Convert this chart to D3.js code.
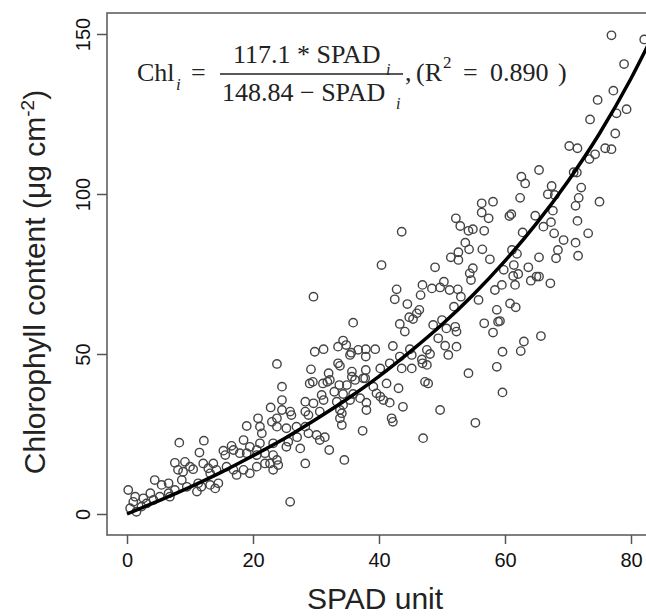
<!DOCTYPE html>
<html>
<head>
<meta charset="utf-8">
<script src="https://cdn.jsdelivr.net/npm/d3@7"></script>
<style>
  body { margin: 0; background: #fff; }
  svg { display: block; }
</style>
</head>
<body>
<div id="chart"></div>
<script>
const spad = [
  76.9, 82.1, 78.9, 77.2, 74.7, 79.3, 77.7, 73.5, 77.5, 70.2, 71.5, 75.9, 76.9,
  73.4, 74.3, 65.4, 62.6, 63.2, 70.9, 71.4, 67.4, 66.8, 67.9, 72.1, 71.7, 71.2, 75.0, 62.4,
  60.7, 61.0, 64.8, 67.6, 66.1, 67.3, 71.5, 62.8, 67.8, 69.3, 73.2, 71.2, 71.6, 68.4, 68.1,
  65.4, 61.1, 61.9, 59.8, 61.4, 63.7, 61.3, 62.1, 65.0, 65.4, 64.1, 61.6, 67.2, 59.5, 60.8,
  61.7, 59.2, 65.7, 63.0, 62.5, 59.6,
  56.3, 58.1, 56.3, 57.4, 52.2, 52.9, 54.2, 54.9, 56.7, 43.6, 53.7, 54.3, 56.4, 51.4, 52.6,
  52.6, 57.6, 48.9, 40.4, 54.9, 54.4, 54.6, 50.3, 49.7, 48.4, 46.9, 46.6, 51.2, 52.5, 53.0,
  42.8, 42.5, 58.4, 55.8, 44.5, 51.9, 46.4, 46.0, 44.8, 45.4, 43.3, 44.1, 50.0, 48.6, 50.7,
  52.1, 52.3, 56.7, 58.7, 58.9, 58.1, 42.2, 44.9, 45.2, 43.3, 47.6, 48.1, 49.4, 50.5, 52.3,
  51.0, 46.8, 46.9, 41.7, 43.6, 45.2, 47.6, 40.2, 58.7, 54.2, 47.3, 47.8, 41.2, 43.1, 59.6,
  40.7, 41.7, 43.8, 49.7, 42.0, 42.2, 55.3, 47.0,
  35.9, 23.8, 29.8, 31.2, 34.3, 34.8, 33.5, 35.4, 35.6, 36.7, 37.9, 39.4, 37.9, 29.2, 32.0,
  32.2, 31.8, 33.5, 33.8, 35.7, 35.7, 37.9, 37.8, 24.6, 29.0, 29.5, 31.1, 33.7, 34.9, 36.2,
  37.5, 39.1, 24.6, 28.3, 29.6, 30.9, 31.2, 32.9, 33.3, 34.3, 34.3, 35.4, 35.9, 37.0, 38.0,
  38.0, 39.6, 40.2, 22.8, 24.6, 25.9, 26.1, 28.3, 28.8, 30.6, 33.8, 34.1, 33.8, 34.1, 37.4,
  20.8, 23.8, 19.0, 21.1, 21.4, 23.0, 23.8, 25.3, 26.9, 28.3, 28.8, 30.1, 30.6, 31.4, 27.0,
  27.5, 25.6, 25.3, 32.1, 34.5, 28.3, 18.5, 19.5, 19.0, 21.1, 20.6, 21.9, 23.2, 22.7, 24.0,
  29.6, 25.9,
  8.3, 12.2, 11.5, 15.3, 15.6, 16.6, 16.9, 17.9, 20.6, 23.2, 7.6, 9.2, 8.1, 8.9, 10.0, 10.5,
  12.1, 12.9, 13.7, 14.2, 13.2, 15.8, 16.9, 17.4, 18.5, 19.5, 20.6, 21.9, 23.2, 23.8, 4.4,
  5.5, 6.6, 7.6, 6.8, 8.7, 9.5, 11.3, 11.8, 11.1, 13.2, 14.0, 14.5, 0.2, 1.3, 1.0, 2.6, 3.1,
  4.2, 5.2, 0.5, 1.5, 2.3, 3.7, 6.6
];
const chl = [
  149.6, 148.3, 140.6, 132.3, 129.4, 126.5, 125.2, 123.3, 118.9, 115.0, 114.3, 114.3, 114.0,
  110.9, 112.4, 107.5, 105.4, 103.3, 106.8, 106.7, 102.5, 99.9, 99.7, 102.0, 98.8, 96.3, 97.6, 98.8,
  93.1, 93.7, 93.2, 94.8, 89.8, 91.2, 91.6, 88.0, 87.7, 85.6, 87.7, 84.8, 80.7, 82.5, 79.9,
  80.2, 82.5, 81.3, 76.3, 77.8, 77.1, 74.4, 75.0, 74.2, 74.2, 72.9, 71.6, 72.1, 71.6, 65.8,
  64.6, 60.3, 55.6, 53.9, 50.9, 50.7,
  97.1, 97.6, 94.2, 92.4, 92.4, 90.0, 88.5, 89.0, 88.5, 88.2, 84.8, 82.7, 82.7, 80.2, 81.8,
  79.4, 79.6, 77.1, 77.8, 76.8, 75.2, 73.1, 72.6, 70.8, 70.5, 71.6, 68.4, 70.0, 70.2, 67.9,
  70.2, 67.1, 70.0, 66.9, 65.6, 64.8, 63.8, 62.7, 61.5, 60.9, 59.4, 57.0, 60.6, 59.1, 58.0,
  58.5, 57.0, 59.6, 63.8, 60.1, 56.7, 52.5, 51.5, 49.7, 49.2, 51.3, 50.0, 54.9, 52.6, 52.3,
  49.7, 48.3, 47.1, 47.1, 45.5, 45.5, 46.6, 45.5, 46.0, 44.0, 41.3, 40.8, 40.8, 39.3, 38.0,
  35.6, 34.8, 33.5, 32.5, 29.9, 28.8, 28.5, 23.7,
  59.8, 46.9, 50.7, 51.5, 54.2, 52.8, 52.3, 49.7, 50.4, 51.3, 51.5, 51.5, 49.2, 45.2, 44.0,
  41.9, 41.3, 47.1, 46.3, 44.5, 42.9, 45.0, 42.4, 39.8, 40.8, 41.3, 40.8, 40.3, 40.3, 41.9,
  42.4, 39.8, 35.6, 35.1, 34.6, 37.2, 35.6, 38.2, 35.1, 37.5, 34.1, 35.6, 37.5, 36.2, 34.8,
  32.5, 37.7, 36.7, 33.3, 32.5, 32.0, 30.9, 32.0, 30.9, 32.0, 32.5, 31.5, 29.9, 27.8, 26.0,
  29.9, 29.9, 27.5, 27.3, 25.2, 28.8, 27.3, 26.8, 27.3, 27.3, 25.2, 24.7, 23.1, 24.0, 24.0,
  20.5, 22.6, 21.0, 20.0, 16.9, 15.8, 23.1, 21.0, 19.0, 22.1, 20.0, 19.0, 18.4, 15.8, 15.3,
  67.9, 3.8,
  22.3, 22.9, 19.2, 19.8, 18.4, 21.3, 20.0, 19.0, 18.4, 22.1, 16.0, 16.3, 13.8, 13.2, 14.8, 14.0,
  15.8, 14.3, 15.8, 13.8, 12.7, 14.8, 13.8, 12.2, 13.8, 12.7, 14.8, 15.8, 13.8, 16.9, 10.6,
  9.1, 9.6, 7.5, 5.4, 10.6, 8.5, 9.6, 8.5, 7.0, 9.1, 8.0, 9.6, 7.5, 5.4, 3.8, 4.9, 3.3,
  4.4, 5.4, 1.8, 0.7, 2.3, 6.5, 6.5
];

// fitted curve as drawn
const fitSpad = [0, 5, 10, 15, 20, 25, 30, 35, 40, 45, 50, 55, 60, 65, 70, 75, 80, 84];
const fitChl = [0, 4.1, 8.4, 13.1, 18.2, 23.6, 29.6, 36.0, 43.0, 50.8, 59.2, 68.6, 79.1, 90.8, 104.0, 118.9, 136.1, 151.7];

const xTicks = [0, 20, 40, 60, 80];
const yTicks = [0, 50, 100, 150];

const w = 646;
const h = 616;

const svg = d3.select("#chart").append("svg").attr("width", w).attr("height", h);

const xScale = d3.scaleLinear().domain([0, 80]).range([127, 631]);
const yScale = d3.scaleLinear().domain([0, 150]).range([514, 34]);

const box = { left: 107, top: 13, bottom: 535 };

// plot frame (right side runs off the picture)
svg.append("rect")
  .attr("x", box.left)
  .attr("y", box.top)
  .attr("width", 700)
  .attr("height", box.bottom - box.top)
  .attr("fill", "none")
  .attr("stroke", "#555")
  .attr("stroke-width", 1.5);

// axes
const xAxis = svg.append("g")
  .attr("transform", `translate(0,${box.bottom})`)
  .call(d3.axisBottom(xScale).tickValues(xTicks).tickSize(9).tickPadding(9));
xAxis.select(".domain").remove();

const yAxis = svg.append("g")
  .attr("transform", `translate(${box.left},0)`)
  .call(d3.axisLeft(yScale).tickValues(yTicks).tickSize(10));
yAxis.select(".domain").remove();
yAxis.selectAll("text")
  .attr("transform", "rotate(-90)")
  .attr("x", 0)
  .attr("y", -17)
  .attr("dy", 0)
  .style("text-anchor", "middle");

svg.selectAll(".tick line").attr("stroke", "#555").attr("stroke-width", 1.5);
svg.selectAll(".tick text")
  .attr("fill", "#111")
  .style("font-family", "'Liberation Sans', Arial, sans-serif")
  .style("font-size", "20px");

// scatter
const points = spad.map((s, i) => ({ s: s, c: chl[i] }));

svg.append("g")
  .selectAll("circle")
  .data(points)
  .enter()
  .append("circle")
  .attr("cx", (d) => xScale(d.s))
  .attr("cy", (d) => yScale(d.c))
  .attr("r", 4.2)
  .attr("fill", "none")
  .attr("stroke", "#444")
  .attr("stroke-width", 1.4);

// fit line
const line = d3.line()
  .x((d, i) => xScale(fitSpad[i]))
  .y((d) => yScale(d))
  .curve(d3.curveMonotoneX);

svg.append("path")
  .attr("d", line(fitChl))
  .attr("fill", "none")
  .attr("stroke", "#000")
  .attr("stroke-width", 3.5);

// axis titles
svg.append("text")
  .text("SPAD unit")
  .attr("x", 375)
  .attr("y", 609)
  .attr("text-anchor", "middle")
  .style("font-family", "'Liberation Sans', Arial, sans-serif")
  .style("font-size", "30px")
  .attr("fill", "#222");

const yTitle = svg.append("text")
  .attr("transform", "translate(45,282) rotate(-90)")
  .attr("text-anchor", "middle")
  .style("font-family", "'Liberation Sans', Arial, sans-serif")
  .style("font-size", "30px")
  .attr("fill", "#222");
yTitle.append("tspan").text("Chlorophyll content (μg cm");
yTitle.append("tspan").text("-2").attr("dy", -11).style("font-size", "19px");
yTitle.append("tspan").text(")").attr("dy", 11);

// equation
const eq = svg.append("g")
  .style("font-family", "'Liberation Serif', 'Times New Roman', serif")
  .attr("fill", "#222");

function eqText(str, x, y, size, italic) {
  eq.append("text")
    .text(str)
    .attr("x", x)
    .attr("y", y)
    .style("font-size", size + "px")
    .style("font-style", italic ? "italic" : "normal");
}

eqText("Chl", 137, 81, 26);
eqText("i", 176, 90, 17, true);
eqText("=", 191, 81, 26);
eqText("117.1 * SPAD", 233, 63, 26);
eqText("i", 386, 75, 16, true);
eqText("148.84 \u2212 SPAD", 222, 101, 26);
eqText("i", 396, 109, 16, true);
eqText(",", 405, 81, 26);
eqText("(R", 416, 81, 26);
eqText("2", 443, 68, 17);
eqText("=", 463, 81, 26);
eqText("0.890", 490, 81, 26);
eqText(")", 558, 81, 26);

eq.append("line")
  .attr("x1", 220)
  .attr("x2", 403)
  .attr("y1", 74)
  .attr("y2", 74)
  .attr("stroke", "#222")
  .attr("stroke-width", 1.6);
</script>
</body>
</html>
